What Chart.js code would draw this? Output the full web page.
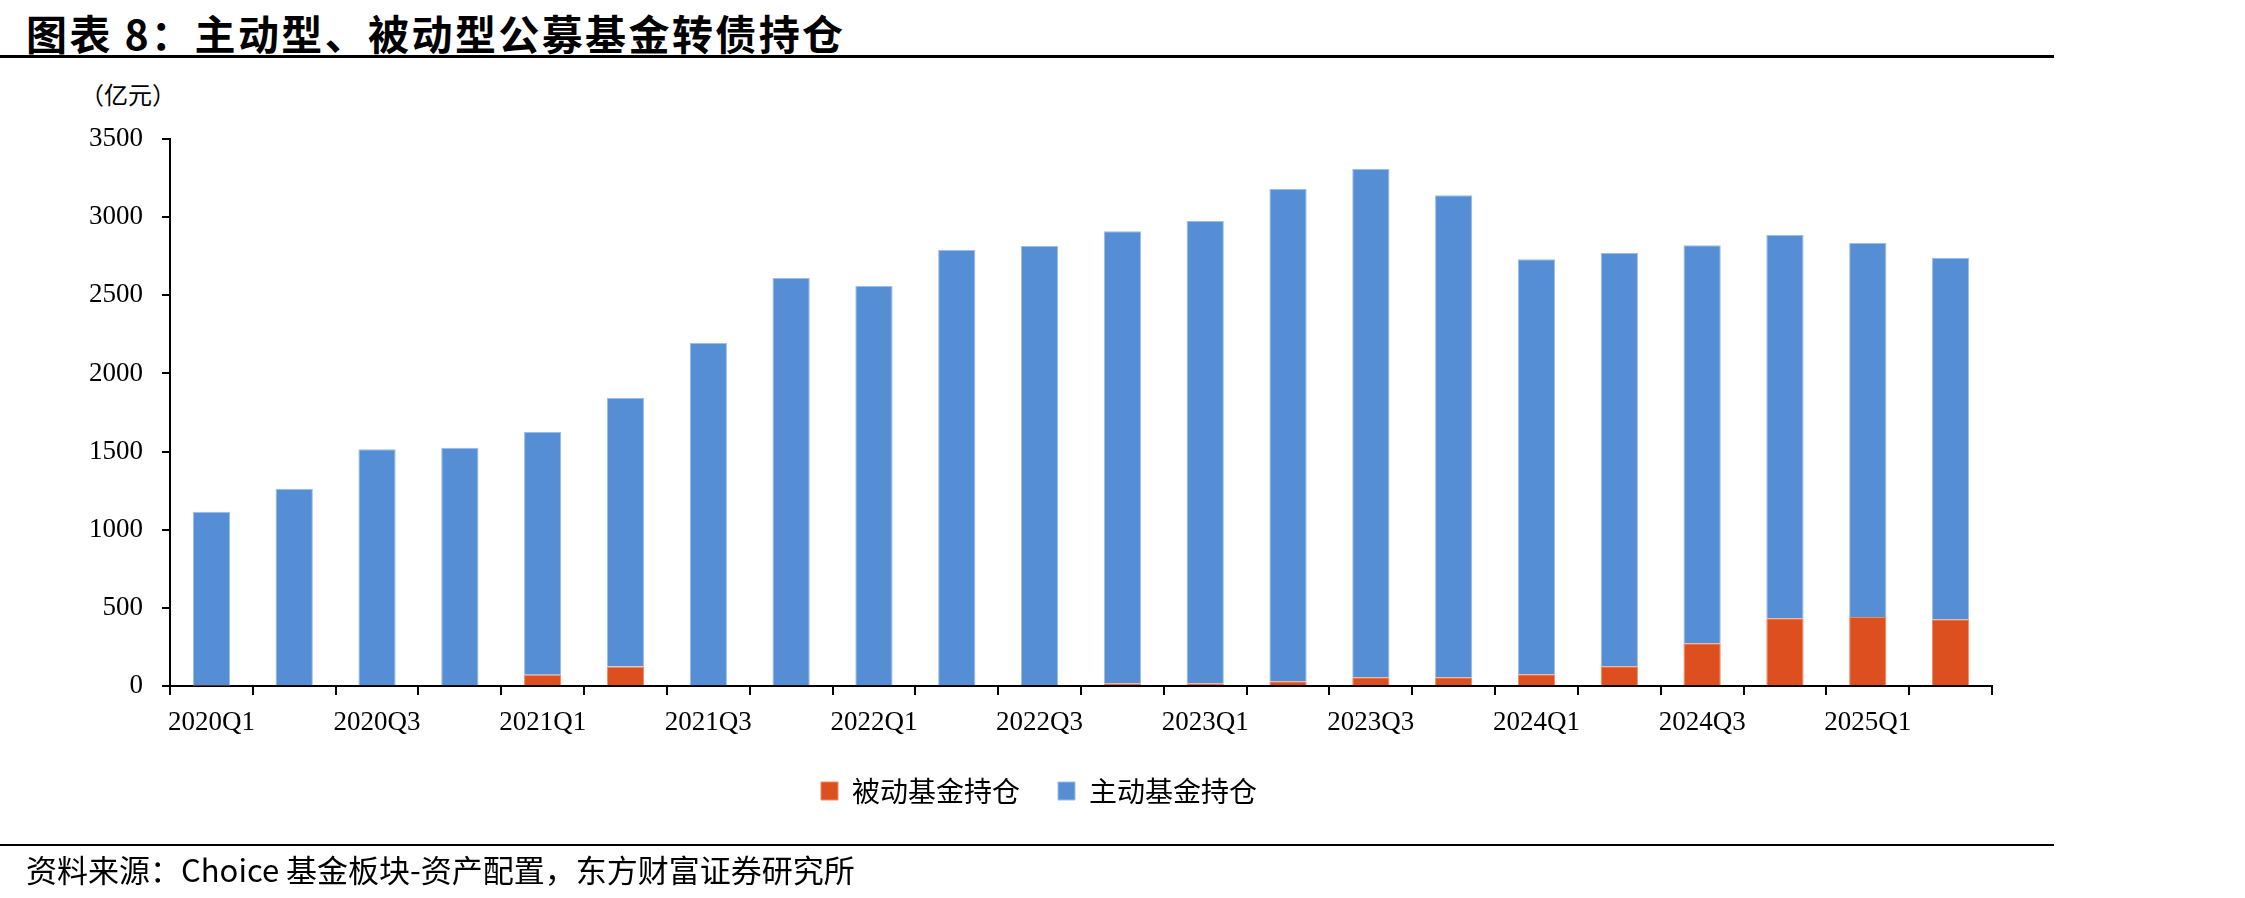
<!DOCTYPE html>
<html>
<head>
<meta charset="utf-8">
<script src="https://cdn.jsdelivr.net/npm/chart.js@4"></script>
<style>
  body { margin: 0; background: #fff; width: 2245px; height: 898px; overflow: hidden; position: relative; }
  #wrap { position: absolute; left: 0; top: 0; width: 2245px; height: 898px; }
  .txt { position: absolute; color: #000; white-space: nowrap; font-family: 'Noto Sans CJK SC', sans-serif; }
  #title { left: 26px; top: 2px; font-size: 41px; font-weight: 700; letter-spacing: 2.4px; }
  #unit { left: 80px; top: 76px; font-size: 24px; }
  #source { left: 26px; top: 846px; font-size: 31px; }
  .rule { position: absolute; left: 0; width: 2054px; background: #000; }
</style>
</head>
<body>
<div class="txt" id="title">图表 8：主动型、被动型公募基金转债持仓</div>
<div class="rule" style="top:55px;height:3px"></div>
<div class="txt" id="unit">（亿元）</div>
<div id="wrap"><canvas id="chart"></canvas></div>
<div class="rule" style="top:844px;height:2px"></div>
<div class="txt" id="source">资料来源：Choice 基金板块-资产配置，东方财富证券研究所</div>
<script>
const quarters = ['2020Q1','2020Q2','2020Q3','2020Q4','2021Q1','2021Q2','2021Q3','2021Q4',
  '2022Q1','2022Q2','2022Q3','2022Q4','2023Q1','2023Q2','2023Q3','2023Q4',
  '2024Q1','2024Q2','2024Q3','2024Q4','2025Q1','2025Q2'];
// 被动基金持仓 (亿元)
const passive = [3, 4, 5, 5, 72, 124, 5, 5, 5, 5, 6, 17, 17, 30, 56, 56, 75, 126, 273, 433, 441, 427];
// 主动基金持仓 (亿元)
const active = [1112, 1258, 1510, 1520, 1553, 1721, 2190, 2605, 2555, 2785, 2809, 2893,
  2958, 3150, 3254, 3084, 2655, 2644, 2547, 2452, 2394, 2313];
const yTicks = [0, 500, 1000, 1500, 2000, 2500, 3000, 3500];

const serif = "'Liberation Serif', 'Times New Roman', serif";
const cjk = "'Noto Sans CJK SC', sans-serif";

new Chart(document.getElementById('chart'), {
  type: 'bar',
  data: {
    labels: quarters,
    datasets: [
      { label: '被动基金持仓', data: passive, backgroundColor: '#DD4F1F', borderColor: '#EE8A64', borderWidth: 1 },
      { label: '主动基金持仓', data: active, backgroundColor: '#558ED5', borderColor: '#9CBDEA', borderWidth: 1 }
    ]
  },
  options: {
    responsive: true,
    maintainAspectRatio: false,
    animation: false,
    datasets: { bar: { categoryPercentage: 0.9, barPercentage: 0.5 } },
    layout: { padding: { left: 86, right: 253, top: 139, bottom: 83 } },
    plugins: {
      tooltip: { enabled: false },
      legend: {
        position: 'bottom',
        labels: {
          boxWidth: 17, boxHeight: 18, padding: 38, color: '#000',
          font: { family: cjk, size: 28 }
        }
      }
    },
    scales: {
      x: {
        stacked: true,
        border: { color: '#000', width: 2 },
        grid: { offset: true, drawOnChartArea: false, color: '#000', tickLength: 9, lineWidth: 2 },
        ticks: {
          autoSkip: false, maxRotation: 0, padding: 12, color: '#000',
          font: { family: serif, size: 27 },
          callback: (v, i) => i % 2 === 0 ? quarters[i] : ''
        },
        afterFit: s => { s.height = 53; }
      },
      y: {
        stacked: true,
        min: 0, max: 3500,
        border: { color: '#000', width: 2 },
        grid: { drawOnChartArea: false, color: '#000', tickLength: 8, lineWidth: 2 },
        afterBuildTicks: s => { s.ticks = yTicks.map(v => ({ value: v })); },
        ticks: { padding: 19, color: '#000', font: { family: serif, size: 27 }, callback: v => String(v) },
        afterFit: s => { s.width = 84; }
      }
    }
  }
});
</script>
</body>
</html>
